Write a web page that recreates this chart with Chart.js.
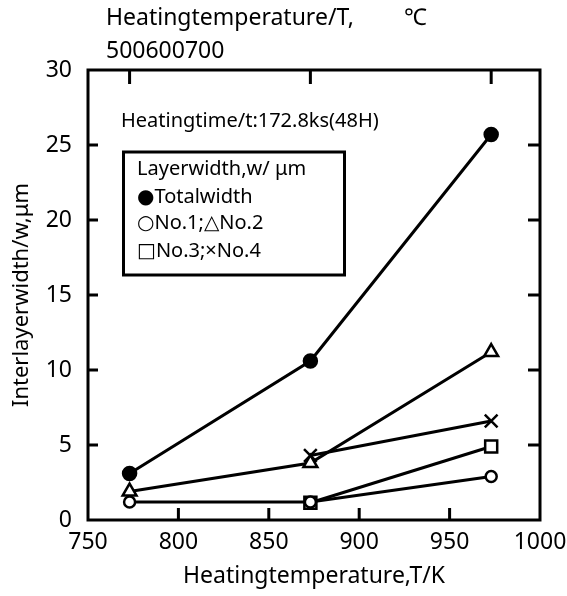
<!DOCTYPE html>
<html>
<head>
<meta charset="utf-8">
<script src="https://cdn.jsdelivr.net/npm/chart.js@4"></script>
<style>
  body { margin: 0; background: #fff; }
  #wrap { width: 567px; height: 596px; }
</style>
</head>
<body>
<div id="wrap"><canvas id="widthChart"></canvas></div>
<script>
// heating temperature (K) and layer widths (um)
const tempK = [773, 873, 973];
const totalWidth = [3.1, 10.6, 25.7];
const no1Width = [1.2, 1.2, 2.9];
const no2Width = [1.9, 3.8, 11.2];
const no3Width = [null, 1.15, 4.9];
const no4Width = [null, 4.3, 6.6];

// top axis: same positions in Celsius
const topTickK = [773, 873, 973];
const topTickLabels = ['500', '600', '700'];

const xTitle = 'Heatingtemperature,T/K';
const yTitle = 'Interlayerwidth/w,\u03bcm';
const topTitle = 'Heatingtemperature/T,';
const topUnit = '\u2103';
const noteText = 'Heatingtime/t:172.8ks(48H)';
const legendLines = ['Layerwidth,w/ \u03bcm', '\u25cfTotalwidth', '\u25cbNo.1;\u25b3No.2', '\u25a1No.3;\u00d7No.4'];

const FONT = "'Noto Sans', 'DejaVu Sans', sans-serif";

function series(data, style, radius, fill) {
    return {
        data: data.map((v, i) => ({ x: tempK[i], y: v })),
        borderColor: '#000',
        borderWidth: 3,
        pointStyle: style,
        pointRadius: radius,
        pointHoverRadius: radius,
        pointBorderWidth: 2.5,
        pointBorderColor: '#000',
        pointBackgroundColor: fill,
        tension: 0,
        fill: false
    };
}

// frame, inward ticks and the text annotations
const decor = {
    id: 'decor',
    afterDatasetsDraw(chart) {
        const { ctx, chartArea: a, scales: { x, y } } = chart;
        ctx.save();
        ctx.strokeStyle = '#000';
        ctx.lineWidth = 3;
        ctx.strokeRect(a.left, a.top, a.right - a.left, a.bottom - a.top);

        ctx.beginPath();
        x.ticks.forEach(t => {
            if (t.value <= x.min || t.value >= x.max) return;
            const px = x.getPixelForValue(t.value);
            ctx.moveTo(px, a.bottom); ctx.lineTo(px, a.bottom - 12);
        });
        topTickK.forEach(v => {
            const px = x.getPixelForValue(v);
            ctx.moveTo(px, a.top); ctx.lineTo(px, a.top + 14);
        });
        y.ticks.forEach(t => {
            if (t.value <= y.min || t.value >= y.max) return;
            const py = y.getPixelForValue(t.value);
            ctx.moveTo(a.left, py); ctx.lineTo(a.left + 10, py);
            ctx.moveTo(a.right, py); ctx.lineTo(a.right - 12, py);
        });
        ctx.stroke();

        ctx.fillStyle = '#000';
        ctx.textBaseline = 'alphabetic';
        ctx.textAlign = 'left';
        ctx.font = '23px ' + FONT;
        ctx.fillText(topTitle, 106, 25);
        ctx.fillText(topUnit, 404, 25);
        ctx.fillText(topTickLabels.join(''), 106, 58);

        ctx.font = '20px ' + FONT;
        ctx.fillText(noteText, 121, 127);

        ctx.lineWidth = 3;
        ctx.strokeRect(123.5, 152, 221, 123);
        const baselines = [175, 203, 229, 257];
        legendLines.forEach((s, i) => ctx.fillText(s, 137, baselines[i]));
        ctx.restore();
    }
};

new Chart(document.getElementById('widthChart').getContext('2d'), {
    type: 'line',
    data: {
        datasets: [
            series(no1Width, 'circle', 5.5, '#fff'),
            series(no3Width, 'rect', 8.5, '#fff'),
            series(no2Width, 'triangle', 8, '#fff'),
            series(no4Width, 'crossRot', 9, '#000'),
            series(totalWidth, 'circle', 6.5, '#000')
        ]
    },
    options: {
        responsive: true,
        maintainAspectRatio: false,
        animation: false,
        layout: { padding: { top: 70, right: 27, left: 0, bottom: 0 } },
        plugins: { legend: { display: false }, tooltip: { enabled: false } },
        scales: {
            x: {
                type: 'linear',
                min: 750, max: 1000,
                afterFit: s => { s.height = 76; s.paddingRight = 0; s.paddingLeft = 0; },
                grid: { display: false, drawTicks: false },
                border: { display: false },
                ticks: { stepSize: 50, autoSkip: false, maxRotation: 0, padding: 9, color: '#000',
                         font: { family: FONT, size: 23 }, callback: v => String(v) },
                title: { display: true, text: xTitle, color: '#000', padding: { top: 0, bottom: 6 }, font: { family: FONT, size: 23 } }
            },
            y: {
                min: 0, max: 30,
                afterFit: s => { s.width = 88; s.paddingTop = 0; s.paddingBottom = 0; },
                grid: { display: false, drawTicks: false },
                border: { display: false },
                ticks: { stepSize: 5, autoSkip: false, padding: 16, color: '#000', font: { family: FONT, size: 23 } },
                title: { display: true, text: yTitle, color: '#000', padding: { top: 9, bottom: 0 }, font: { family: FONT, size: 22 } }
            }
        }
    },
    plugins: [decor]
});
</script>
</body>
</html>
